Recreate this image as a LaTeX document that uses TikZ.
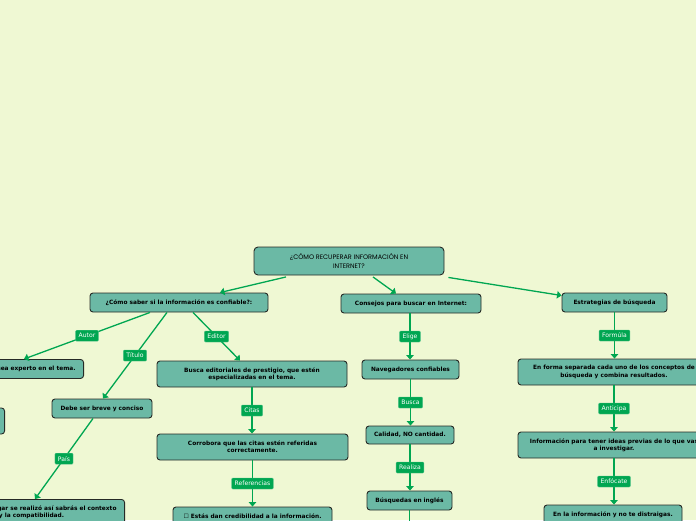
\documentclass[tikz,border=0pt]{standalone}
\usepackage{fontspec}
\setmainfont{DejaVu Sans}
\newfontfamily\rootfont{Poppins}
\newfontfamily\symfont{DejaVu Sans}
\usetikzlibrary{arrows.meta,positioning}
\definecolor{bgc}{HTML}{EFF8D3}
\definecolor{boxc}{HTML}{6BB9A5}
\definecolor{edgec}{HTML}{00A651}
\definecolor{lblc}{HTML}{00A651}
\definecolor{bordc}{HTML}{262A26}
\tikzset{
  topic/.style={draw=bordc, line width=0.9pt, fill=boxc, rounded corners=3pt,
    align=center, inner sep=2pt, text=black,
    font=\fontsize{5.85}{7.2}\selectfont\bfseries},
  roottopic/.style={topic, rounded corners=4pt,
    font=\fontsize{6.5}{8.6}\selectfont\rootfont},
  conn/.style={draw=edgec, line width=1.3pt, -{Triangle[length=4.5pt,width=7.5pt]}},
  plainconn/.style={draw=edgec, line width=1.3pt},
  lbl/.style={fill=lblc, draw=lblc!70!white, line width=0.4pt, text=white, rounded corners=1pt,
    inner xsep=3pt, inner ysep=1.5pt, minimum height=11pt,
    font=\fontsize{6.1}{7}\selectfont}
}
\begin{document}
\begin{tikzpicture}[x=1pt,y=-1pt]
\useasboundingbox (0,0) rectangle (696,520);
\fill[bgc] (0,0) rectangle (696,520);
\clip (0,0) rectangle (696,520);

% main nodes
\node[roottopic, minimum width=190pt, minimum height=28pt] (root) at (349,261)
  {¿CÓMO RECUPERAR INFORMACIÓN EN\\INTERNET?};
\node[topic, minimum width=178pt, minimum height=19pt] (n1) at (179,302.5)
  {¿Cómo saber si la información es confiable?:};
\node[topic, minimum width=140pt, minimum height=19pt] (n2) at (411,303.5)
  {Consejos para buscar en Internet:};
\node[topic, minimum width=105pt, minimum height=19pt] (n3) at (614.5,302.5)
  {Estrategias de búsqueda};

% left branch
\node[topic, anchor=north east, inner xsep=8pt, minimum height=19pt] (a1) at (84,359)
  {Verifica que el autor sea experto en el tema.};
\node[topic, anchor=east, minimum width=120pt, minimum height=26pt] (x1) at (5,421) {};
\node[topic, minimum width=100pt, minimum height=19pt] (debe) at (102,408.5)
  {Debe ser breve y conciso};
\node[topic, anchor=north east, inner xsep=8pt, minimum height=26pt] (p1) at (125,499)
  {Al conocer el lugar se realizó así sabrás el contexto\\y la compatibilidad.};
\node[topic, minimum width=190pt, minimum height=26pt] (be) at (252,374)
  {Busca editoriales de prestigio, que estén\\especializadas en el tema.};
\node[topic, minimum width=191pt, minimum height=26pt] (cor) at (252.5,447)
  {Corrobora que las citas estén referidas\\correctamente.};
\node[topic, minimum width=159pt, minimum height=19pt] (est) at (252.5,516.5)
  {{\symfont\mdseries ☐} Estás dan credibilidad a la información.};

% middle branch
\node[topic, minimum width=97pt, minimum height=19pt] (nav) at (410.5,369.5)
  {Navegadores confiables};
\node[topic, minimum width=88pt, minimum height=18pt] (cal) at (410,435)
  {Calidad, NO cantidad.};
\node[topic, minimum width=85pt, minimum height=19pt] (bus) at (409.5,500.5)
  {Búsquedas en inglés};
\coordinate (busend) at (410,540);

% right branch
\node[topic, minimum width=192pt, minimum height=26pt] (ef) at (614,372)
  {En forma separada cada uno de los conceptos de\\búsqueda y combina resultados.};
\node[topic, minimum width=192pt, minimum height=26pt] (inf) at (614,445)
  {Información para tener ideas previas de lo que vas\\a investigar.};
\node[topic, minimum width=138pt, minimum height=19pt] (enla) at (613,514.5)
  {En la información y no te distraigas.};

% connectors from root
\draw[conn] ([xshift=-63pt,yshift=-1.5pt]root.south) -- ([xshift=41pt]n1.north);
\draw[conn] ([xshift=24pt,yshift=-1.5pt]root.south) -- ([xshift=-15pt]n2.north);
\draw[conn] ([xshift=4pt,yshift=-2pt]root.south east) -- ([yshift=7pt]n3.west);

% left branch connectors
\draw[conn] ([xshift=-29pt]n1.south) -- node[lbl] (lautor) {Autor} ([xshift=-60pt]a1.north east);
\draw[conn] ([xshift=-12pt]n1.south) -- node[lbl] (ltit) {Título} ([xshift=1pt]debe.north);
\draw[conn] ([xshift=14pt]n1.south) -- node[lbl] (ledit) {Editor} ([xshift=-12pt]be.north);
\draw[conn] ([xshift=-9pt]debe.south) -- node[lbl] (lpais) {País} ([xshift=-90pt]p1.north east);
\draw[conn] (be.south) -- node[lbl] (lcit) {Citas} (be.south |- cor.north);
\draw[conn] (cor.south) -- node[lbl] (lref) {Referencias} (cor.south |- est.north);

% middle branch connectors
\draw[conn] ([xshift=-1pt]n2.south) -- node[lbl] (lelige) {Elige} ([xshift=-1pt]n2.south |- nav.north);
\draw[conn] (nav.south) -- node[lbl] (lbusca) {Busca} (nav.south |- cal.north);
\draw[conn] (cal.south) -- node[lbl] (lreal) {Realiza} (cal.south |- bus.north);
\draw[plainconn] (bus.south) -- (bus.south |- busend);

% right branch connectors
\draw[conn] (n3.south) -- node[lbl] (lform) {Formúla} (n3.south |- ef.north);
\draw[conn] (ef.south) -- node[lbl] (lanti) {Anticipa} (ef.south |- inf.north);
\draw[conn] (inf.south) -- node[lbl] (lenf) {Enfócate} (inf.south |- enla.north);
\end{tikzpicture}
\end{document}
